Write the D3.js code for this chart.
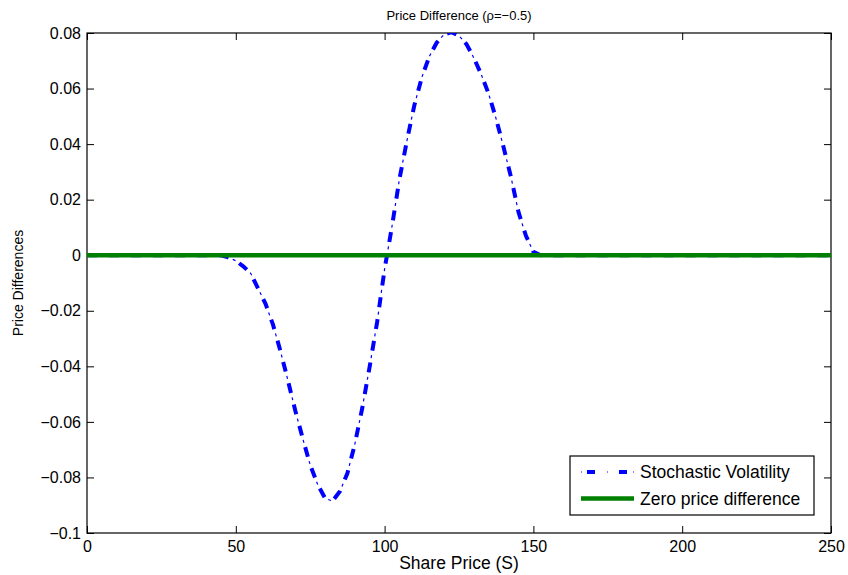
<!DOCTYPE html>
<html>
<head>
<meta charset="utf-8">
<script src="https://cdn.jsdelivr.net/npm/d3@7"></script>
<style>
  body { margin: 0; background: #fff; }
  svg { font-family: "Liberation Sans", Arial, sans-serif; }
</style>
</head>
<body>
<div id="chart"></div>
<script>
// share price grid and price differences
const sharePrice = [0, 45, 47.5, 50, 52.5, 55, 57.5, 60, 62.5, 65, 67.5, 70, 72.5, 75, 77.5, 80, 82.5, 85, 87.5, 90,
    92.5, 95, 97.5, 100, 102.5, 105, 107.5, 110, 112.5, 115, 117.5, 120, 122.5, 125, 127.5, 130, 132.5, 135,
    137.5, 140, 142.5, 145, 147.5, 150, 152.5, 250]
const svDiff = [0, 0, -0.0008, -0.002, -0.004, -0.0065, -0.012, -0.0175, -0.025, -0.0345, -0.045, -0.056, -0.066,
    -0.0755, -0.0825, -0.0875, -0.0885, -0.085, -0.0785, -0.068, -0.055, -0.040, -0.024, -0.005, 0.0105, 0.0275,
    0.0412, 0.054, 0.064, 0.0715, 0.0765, 0.0795, 0.0803, 0.079, 0.076, 0.071, 0.065, 0.058, 0.049, 0.0388,
    0.028, 0.0155, 0.007, 0.0012, 0, 0]
const zeroX = [0, 250]
const zeroY = [0, 0]

const xTicks = [0, 50, 100, 150, 200, 250]
const yTicks = [-0.1, -0.08, -0.06, -0.04, -0.02, 0, 0.02, 0.04, 0.06, 0.08]
const seriesNames = ['Stochastic Volatility', 'Zero price difference']

const width = 848, height = 575
const margin = {top: 33, right: 17, bottom: 42, left: 87}
const w = width - margin.left - margin.right
const h = height - margin.top - margin.bottom
const tickLen = 7

const svg = d3.select('#chart')
    .append('svg')
        .attr('width', width)
        .attr('height', height)

const x = d3.scaleLinear().domain([0, 250]).range([0, w])
const y = d3.scaleLinear().domain([-0.1, 0.08]).range([h, 0])

const g = svg.append('g')
    .attr('transform', 'translate(' + margin.left + ',' + margin.top + ')')

g.append('clipPath').attr('id', 'clip')
    .append('rect').attr('width', w).attr('height', h)

const fmt = d => String(+d.toFixed(2)).replace('-', '\u2212')

// axes, ticks pointing inward like matlab
const xAxis = g.append('g')
    .attr('transform', 'translate(0,' + h + ')')
    .call(d3.axisBottom(x).tickValues(xTicks).tickSize(-tickLen).tickPadding(5).tickFormat(d => d))
const yAxis = g.append('g')
    .call(d3.axisLeft(y).tickValues(yTicks).tickSize(-tickLen).tickPadding(6).tickFormat(fmt))
g.append('g')
    .call(d3.axisTop(x).tickValues(xTicks).tickSize(-tickLen).tickFormat(''))
g.append('g')
    .attr('transform', 'translate(' + w + ',0)')
    .call(d3.axisRight(y).tickValues(yTicks).tickSize(-tickLen).tickFormat(''))

g.selectAll('.domain').remove()
g.selectAll('.tick line').attr('stroke', '#000')
g.selectAll('.tick text')
    .attr('fill', '#000')
    .style('font-size', '16px')
xAxis.selectAll('.tick text').attr('dy', '0.85em')

g.append('rect')
    .attr('width', w)
    .attr('height', h)
    .attr('fill', 'none')
    .attr('stroke', '#000')
    .attr('stroke-width', 1.2)

const line = d3.line()
    .x(d => x(d[0]))
    .y(d => y(d[1]))

const svPts = sharePrice.map((s, i) => [s, svDiff[i]])
const zeroPts = zeroX.map((s, i) => [s, zeroY[i]])

const plot = g.append('g').attr('clip-path', 'url(#clip)')

// dash-dot: thick dashes plus thin dots in the gaps
plot.append('path')
    .attr('d', line(svPts))
    .attr('fill', 'none')
    .attr('stroke', '#0000ff')
    .attr('stroke-width', 4)
    .attr('stroke-dasharray', '10,12')
plot.append('path')
    .attr('d', line(svPts))
    .attr('fill', 'none')
    .attr('stroke', '#0000ff')
    .attr('stroke-width', 1.2)
    .attr('stroke-dasharray', '3,19')
    .attr('stroke-dashoffset', 7.5)

plot.append('path')
    .attr('d', line(zeroPts))
    .attr('fill', 'none')
    .attr('stroke', '#008000')
    .attr('stroke-width', 4.5)

// title and labels
svg.append('text')
    .attr('x', margin.left + w / 2)
    .attr('y', 20)
    .attr('text-anchor', 'middle')
    .style('font-size', '13px')
    .text('Price Difference (\u03c1=\u22120.5)')

svg.append('text')
    .attr('x', margin.left + w / 2)
    .attr('y', 569)
    .attr('text-anchor', 'middle')
    .style('font-size', '17.5px')
    .text('Share Price (S)')

svg.append('text')
    .attr('transform', 'translate(23,' + (margin.top + h / 2) + ') rotate(-90)')
    .attr('text-anchor', 'middle')
    .style('font-size', '14px')
    .text('Price Differences')

// legend
const legend = svg.append('g').attr('transform', 'translate(570,456)')
legend.append('rect')
    .attr('width', 244)
    .attr('height', 59)
    .attr('fill', '#fff')
    .attr('stroke', '#000')
    .attr('stroke-width', 1.2)

const rows = legend.selectAll('.row')
    .data(seriesNames)
    .join('g')
        .attr('transform', (d, i) => 'translate(0,' + (16 + i * 26.5) + ')')

rows.filter((d, i) => i === 0).append('path')
    .attr('d', 'M11,0H64')
    .attr('stroke', '#0000ff')
    .attr('stroke-width', 4)
    .attr('stroke-dasharray', '0,6,8,18')
rows.filter((d, i) => i === 0).append('path')
    .attr('d', 'M11,0H64')
    .attr('stroke', '#0000ff')
    .attr('stroke-width', 1.2)
    .attr('stroke-dasharray', '1,25')
rows.filter((d, i) => i === 1).append('path')
    .attr('d', 'M11,0H64')
    .attr('stroke', '#008000')
    .attr('stroke-width', 4.5)

rows.append('text')
    .attr('x', 70)
    .attr('dy', '0.35em')
    .style('font-size', '17.5px')
    .text(d => d)
</script>
</body>
</html>
